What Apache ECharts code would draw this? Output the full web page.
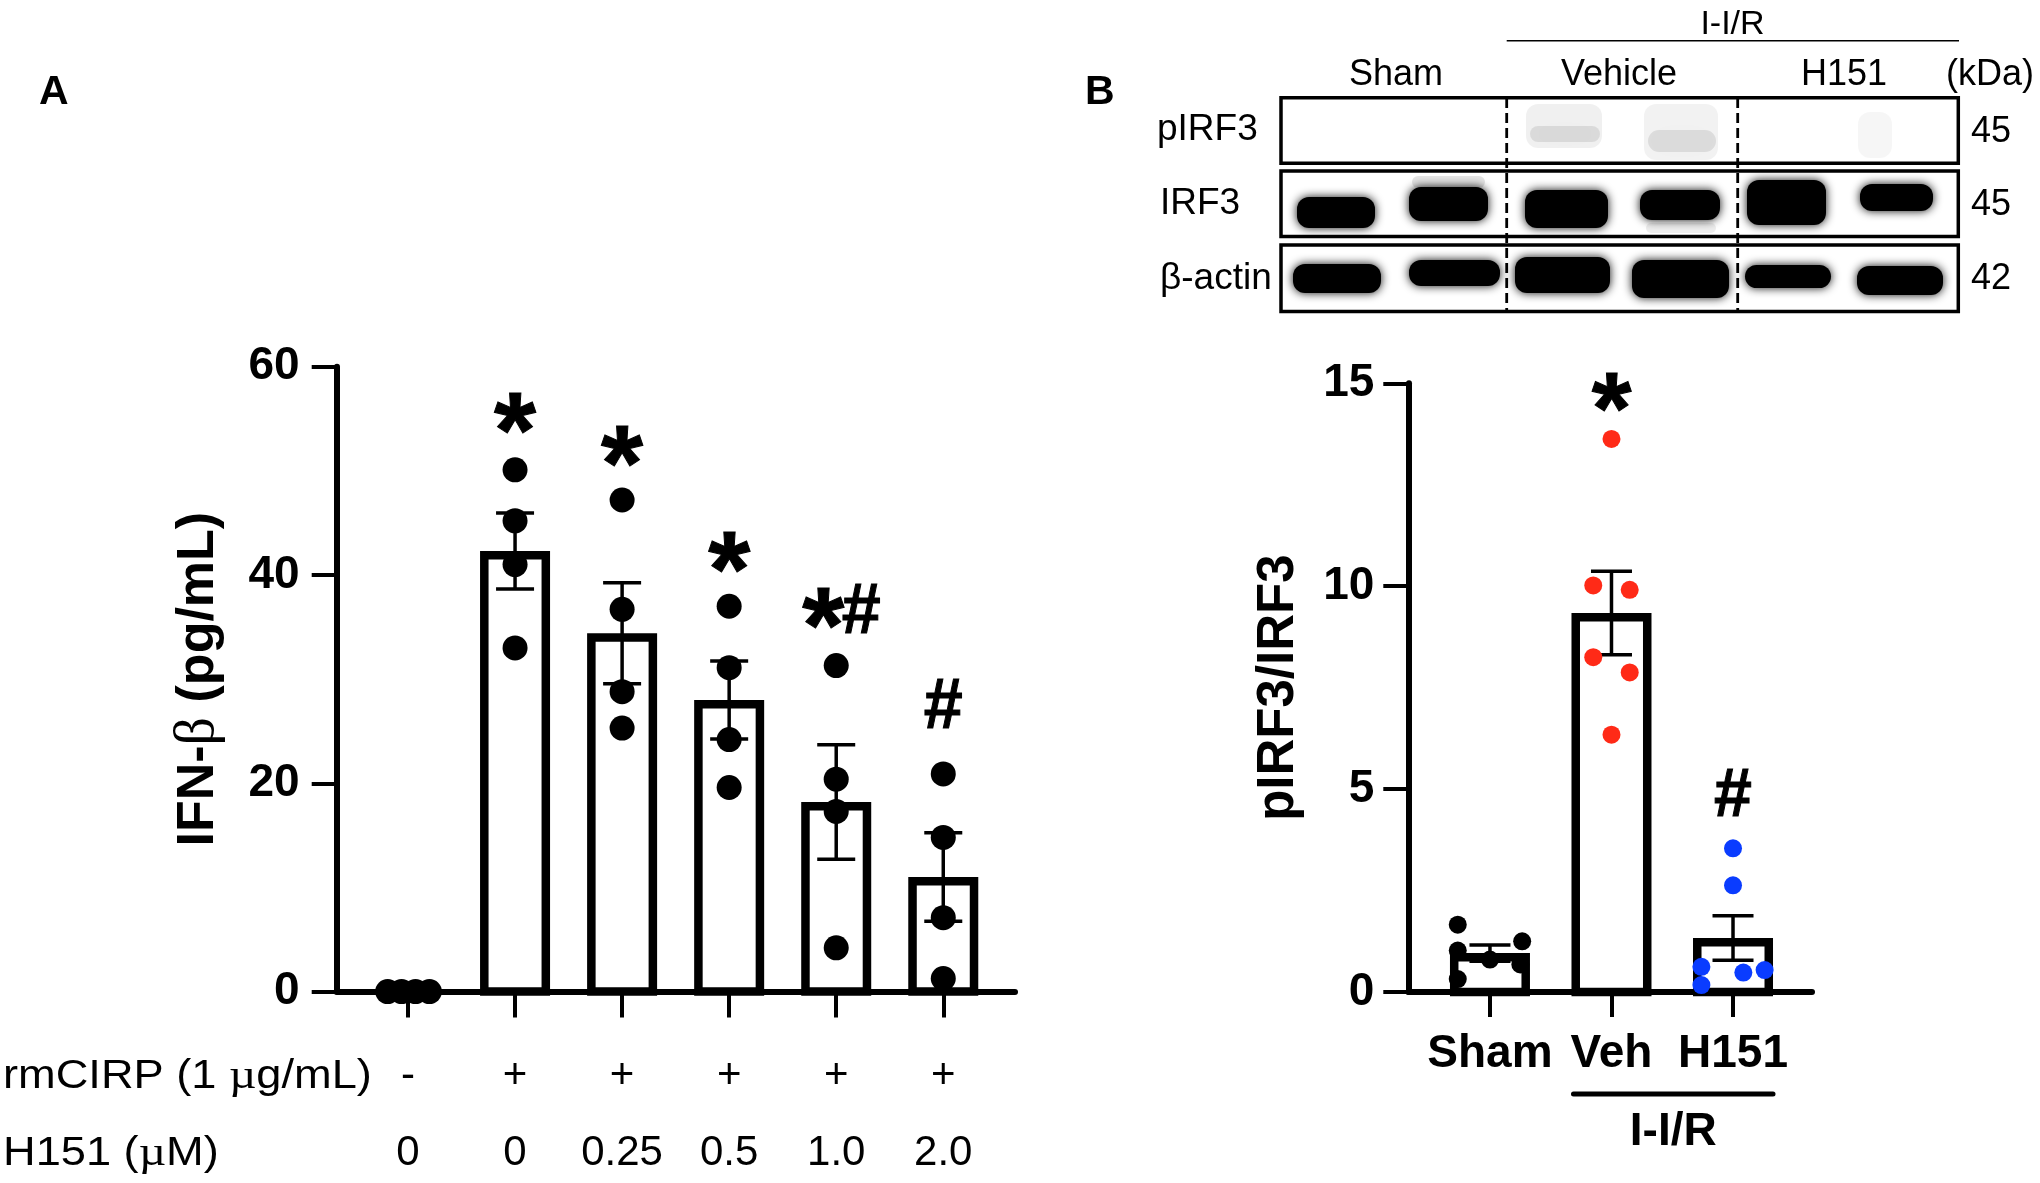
<!DOCTYPE html>
<html><head><meta charset="utf-8">
<script src="https://cdn.jsdelivr.net/npm/echarts@6/dist/echarts.min.js"></script>
<style>html,body{margin:0;padding:0;background:#fff}#c{width:2040px;height:1183px}</style>
</head><body><div id="c"></div>
<script>
// ---------- Panel A data ----------
const rmcirpLabels = ['-', '+', '+', '+', '+', '+'];
const h151Doses = ['0', '0', '0.25', '0.5', '1.0', '2.0'];
const ifnMean = [0, 42.3, 34.4, 28.0, 18.2, 11.0];
const ifnSem = [0, 3.65, 4.85, 3.75, 5.5, 4.25];
const ifnDots = [
  [0, 0, 0, 0],
  [50.1, 45.2, 41.0, 33.0],
  [47.2, 36.7, 28.8, 25.3],
  [37.0, 31.1, 24.2, 19.6],
  [31.3, 20.4, 17.3, 4.2],
  [20.9, 14.8, 7.1, 1.25]
];
const ifnStar = [null, 55.4, 52.2, 42.1, 36.7, null];
const ifnHash = [null, null, null, null, 36.3, 27.2];

// ---------- Panel B data ----------
const groupsB = ['Sham', 'Veh', 'H151'];
const ratioMean = [0.96, 9.34, 1.33];
const ratioSem = [0.2, 1.03, 0.55];
const ratioDots = [
  [1.66, 1.02, 0.32, 0.80, 1.25, 0.68],
  [13.63, 10.02, 9.91, 8.25, 7.875, 6.34],
  [3.54, 2.63, 0.62, 0.17, 0.48, 0.54]
];
const ratioStar = [null, 14.74, null];
const ratioHash = [null, null, 4.79];

// ---------- layout / style ----------
const FONT = "'Liberation Sans', Arial, Helvetica, sans-serif";
const SERIF = "'Liberation Serif', 'Times New Roman', serif";
const idxA = [0, 1, 2, 3, 4, 5];
const idxB = [0, 1, 2];
const jitterA = [[-0.19, -0.06, 0.07, 0.2], [0, 0, 0, 0], [0, 0, 0, 0], [0, 0, 0, 0], [0, 0, 0, 0], [0, 0, 0, 0]];
const jitterB = [[-0.265, -0.265, -0.265, 0, 0.265, 0.25], [0, -0.15, 0.15, -0.15, 0.15, 0], [0, 0, -0.26, -0.26, 0.085, 0.26]];
const dotColorsB = ['#000000', '#ff2a17', '#0a3cff'];
const starShiftA = [0, 0, 0, 0, -13, 0];
const hashShiftA = [0, 0, 0, 0, 25, 0];
const STAR_A = 108, HASH_A = 70, STAR_B = 102, HASH_B = 68;

const chart = echarts.init(document.getElementById('c'), null, { renderer: 'canvas' });

function barRender(outerW, bw) {
  return function (params, api) {
    const x = api.value(0), v = api.value(1);
    if (!v) return null;
    const top = api.coord([x, v]), base = api.coord([x, 0]);
    return {
      type: 'rect',
      shape: { x: top[0] - outerW / 2 + bw / 2, y: top[1] + bw / 2, width: outerW - bw, height: base[1] - top[1] - bw / 2 },
      style: { fill: '#fff', stroke: '#000', lineWidth: bw }
    };
  };
}
function errRender(capW, lw) {
  return function (params, api) {
    const x = api.value(0), m = api.value(1), s = api.value(2);
    if (!s) return null;
    const hi = api.coord([x, m + s]), lo = api.coord([x, m - s]);
    const st = { stroke: '#000', lineWidth: lw };
    return {
      type: 'group', children: [
        { type: 'line', shape: { x1: hi[0], y1: hi[1], x2: lo[0], y2: lo[1] }, style: st },
        { type: 'line', shape: { x1: hi[0] - capW / 2, y1: hi[1], x2: hi[0] + capW / 2, y2: hi[1] }, style: st },
        { type: 'line', shape: { x1: lo[0] - capW / 2, y1: lo[1], x2: lo[0] + capW / 2, y2: lo[1] }, style: st }
      ]
    };
  };
}
function sigRender(text, size, dyEm) {
  return function (params, api) {
    const p = api.coord([api.value(0), api.value(1)]);
    const dx = api.value(2) || 0;
    return {
      type: 'text',
      style: {
        text: text, x: p[0] + dx, y: p[1] + dyEm * size,
        font: 'bold ' + size + 'px ' + FONT, fill: '#000',
        align: 'center', verticalAlign: 'middle', stroke: '#000', lineWidth: 1
      }
    };
  };
}

const dotsA = [];
ifnDots.forEach((g, i) => g.forEach((v, k) => dotsA.push([i + jitterA[i][k], v])));
const dotsB = [];
ratioDots.forEach((g, i) => g.forEach((v, k) => dotsB.push({ value: [i + jitterB[i][k], v], itemStyle: { color: dotColorsB[i] } })));

const starDataA = [], hashDataA = [];
ifnStar.forEach((v, i) => { if (v != null) starDataA.push([i, v, starShiftA[i]]); });
ifnHash.forEach((v, i) => { if (v != null) hashDataA.push([i, v, hashShiftA[i]]); });
const starDataB = [], hashDataB = [];
ratioStar.forEach((v, i) => { if (v != null) starDataB.push([i, v, 0]); });
ratioHash.forEach((v, i) => { if (v != null) hashDataB.push([i, v, 0]); });

const axisLineStyle = { color: '#000', width: 6 };
const tickStyle = { color: '#000', width: 4 };

const option = {
  animation: false,
  backgroundColor: '#fff',
  grid: [
    { left: 336.7, top: 366.7, width: 678.3, height: 624.9 },
    { left: 1408.3, top: 383.3, width: 403.7, height: 608.7 }
  ],
  xAxis: [
    {
      type: 'value', gridIndex: 0, min: -0.666, max: 5.67, position: 'bottom',
      axisLine: { show: true, onZero: false, lineStyle: axisLineStyle },
      axisTick: { show: true, customValues: idxA, length: 26, lineStyle: tickStyle },
      axisLabel: { customValues: idxA, formatter: v => rmcirpLabels[Math.round(v)], fontFamily: FONT, fontSize: 42, color: '#000', margin: 64 },
      splitLine: { show: false }
    },
    {
      type: 'value', gridIndex: 0, min: -0.666, max: 5.67, position: 'bottom', offset: 100,
      axisLine: { show: false }, axisTick: { show: false },
      axisLabel: { customValues: idxA, formatter: v => h151Doses[Math.round(v)], fontFamily: FONT, fontSize: 42, color: '#000', margin: 41 },
      splitLine: { show: false }
    },
    {
      type: 'value', gridIndex: 1, min: -0.672, max: 2.65, position: 'bottom',
      axisLine: { show: true, onZero: false, lineStyle: axisLineStyle },
      axisTick: { show: true, customValues: idxB, length: 25, lineStyle: tickStyle },
      axisLabel: { customValues: idxB, formatter: v => groupsB[Math.round(v)], fontFamily: FONT, fontSize: 46, fontWeight: 'bold', color: '#000', margin: 39 },
      splitLine: { show: false }
    }
  ],
  yAxis: [
    {
      type: 'value', gridIndex: 0, min: 0, max: 60, interval: 20,
      axisLine: { show: true, onZero: false, lineStyle: axisLineStyle },
      axisTick: { show: true, length: 25, lineStyle: tickStyle },
      axisLabel: { fontFamily: FONT, fontSize: 46, fontWeight: 'bold', color: '#000', margin: 37 },
      splitLine: { show: false },
      name: 'IFN-{b|β} (pg/mL)', nameLocation: 'middle', nameRotate: 90, nameGap: 110,
      nameTextStyle: { fontFamily: FONT, fontSize: 52, fontWeight: 'bold', color: '#000',
        rich: { b: { fontFamily: SERIF, fontWeight: 'normal', fontSize: 56, color: '#000' } } }
    },
    {
      type: 'value', gridIndex: 1, min: 0, max: 15, interval: 5,
      axisLine: { show: true, onZero: false, lineStyle: axisLineStyle },
      axisTick: { show: true, length: 25, lineStyle: tickStyle },
      axisLabel: { fontFamily: FONT, fontSize: 46, fontWeight: 'bold', color: '#000', margin: 34 },
      splitLine: { show: false },
      name: 'pIRF3/IRF3', nameLocation: 'middle', nameRotate: 90, nameGap: 104,
      nameTextStyle: { fontFamily: FONT, fontSize: 51, fontWeight: 'bold', color: '#000' }
    }
  ],
  series: [
    { type: 'custom', xAxisIndex: 0, yAxisIndex: 0, z: 2, data: ifnMean.map((m, i) => [i, m]), renderItem: barRender(70, 8.5) },
    { type: 'custom', xAxisIndex: 0, yAxisIndex: 0, z: 3, data: ifnMean.map((m, i) => [i, m, ifnSem[i]]), renderItem: errRender(38, 3.5) },
    { type: 'scatter', xAxisIndex: 0, yAxisIndex: 0, z: 4, symbolSize: 25, itemStyle: { color: '#000', opacity: 1 }, data: dotsA },
    { type: 'custom', xAxisIndex: 0, yAxisIndex: 0, z: 5, data: starDataA, renderItem: sigRender('*', STAR_A, 0.21) },
    { type: 'custom', xAxisIndex: 0, yAxisIndex: 0, z: 5, data: hashDataA, renderItem: sigRender('#', HASH_A, 0) },

    { type: 'custom', xAxisIndex: 2, yAxisIndex: 1, z: 2, data: ratioMean.map((m, i) => [i, m]), renderItem: barRender(80, 8.5) },
    { type: 'custom', xAxisIndex: 2, yAxisIndex: 1, z: 3, data: ratioMean.map((m, i) => [i, m, ratioSem[i]]), renderItem: errRender(41, 3.5) },
    { type: 'scatter', xAxisIndex: 2, yAxisIndex: 1, z: 4, symbolSize: 18, itemStyle: { opacity: 1 }, data: dotsB },
    { type: 'custom', xAxisIndex: 2, yAxisIndex: 1, z: 5, data: starDataB, renderItem: sigRender('*', STAR_B, 0.21) },
    { type: 'custom', xAxisIndex: 2, yAxisIndex: 1, z: 5, data: hashDataB, renderItem: sigRender('#', HASH_B, 0) }
  ]
};
chart.setOption(option);

// ---------- annotations, labels and blot image (decoration) ----------
function txt(x, y, text, size, weight, align, extra) {
  return Object.assign({
    type: 'text', x: x, y: y, z: 10,
    style: { x: 0, y: 0, text: text, font: (weight || 'normal') + ' ' + size + 'px ' + FONT, fill: '#000', align: align || 'left', verticalAlign: 'middle' }
  }, extra || {});
}
const g = [];
g.push(txt(39, 92.5, 'A', 41, 'bold'));
g.push(txt(1085, 92.5, 'B', 41, 'bold'));
// panel A row labels
g.push({ type: 'text', x: 3, y: 1076.5, scaleX: 1.13, z: 10,
  style: { x: 0, y: 0, text: 'rmCIRP (1 {m|µ}g/mL)', font: '40px ' + FONT, fill: '#000', align: 'left', verticalAlign: 'middle',
    rich: { m: { font: '42px ' + SERIF, fill: '#000' } } } });
g.push({ type: 'text', x: 3, y: 1153.5, scaleX: 1.13, z: 10,
  style: { x: 0, y: 0, text: 'H151 ({m|µ}M)', font: '40px ' + FONT, fill: '#000', align: 'left', verticalAlign: 'middle',
    rich: { m: { font: '42px ' + SERIF, fill: '#000' } } } });

// blot header
g.push(txt(1732.5, 25, 'I-I/R', 34, 'normal', 'center'));
g.push({ type: 'line', z: 10, shape: { x1: 1506.7, y1: 40.7, x2: 1959, y2: 40.7 }, style: { stroke: '#000', lineWidth: 1.6 } });
g.push(txt(1396, 75, 'Sham', 36, 'normal', 'center'));
g.push(txt(1619, 75, 'Vehicle', 36, 'normal', 'center'));
g.push(txt(1844, 75, 'H151', 36, 'normal', 'center'));
g.push(txt(1990, 75, '(kDa)', 36, 'normal', 'center'));
g.push(txt(1157, 130, 'pIRF3', 37));
g.push(txt(1160, 204, 'IRF3', 37));
g.push(txt(1160, 279, 'β-actin', 37));
g.push(txt(1991, 132, '45', 36, 'normal', 'center'));
g.push(txt(1991, 205, '45', 36, 'normal', 'center'));
g.push(txt(1991, 279, '42', 36, 'normal', 'center'));

// faint pIRF3 signal
const faint = [
  [1526, 104, 76, 44, 0.06], [1530, 126, 70, 16, 0.09],
  [1644, 104, 74, 56, 0.05], [1648, 130, 68, 22, 0.09],
  [1858, 112, 34, 46, 0.035]
];
faint.forEach(f => g.push({ type: 'rect', z: 8, shape: { x: f[0], y: f[1], width: f[2], height: f[3], r: 12 },
  style: { fill: 'rgba(0,0,0,' + f[4] + ')', shadowBlur: 26, shadowColor: 'rgba(0,0,0,' + (f[4] * 1.4) + ')' } }));
// dark bands
const bands = [
  [1295, 195, 82, 35], [1407, 185, 83, 38], [1523, 188, 87, 42], [1638, 188, 84, 34], [1745, 178, 83, 49], [1858, 182, 77, 31],
  [1291, 262, 92, 33], [1407, 258, 95, 30], [1513, 255, 99, 40], [1630, 258, 101, 42], [1743, 263, 90, 27], [1855, 264, 90, 33]
];
bands.forEach(b => g.push({ type: 'rect', z: 8, shape: { x: b[0] + 2, y: b[1] + 2, width: b[2] - 4, height: b[3] - 4, r: 12 },
  style: { fill: '#000', shadowBlur: 10, shadowColor: 'rgba(0,0,0,0.95)' } }));
g.push({ type: 'rect', z: 8, shape: { x: 1412, y: 176, width: 73, height: 12, r: 6 }, style: { fill: 'rgba(0,0,0,0.10)', shadowBlur: 10, shadowColor: 'rgba(0,0,0,0.10)' } });
g.push({ type: 'rect', z: 8, shape: { x: 1646, y: 223, width: 70, height: 10, r: 6 }, style: { fill: 'rgba(0,0,0,0.07)', shadowBlur: 10, shadowColor: 'rgba(0,0,0,0.07)' } });
// boxes
[[97.7, 65.6], [171.0, 65.6], [245.0, 66.6]].forEach(r => g.push({ type: 'rect', z: 9,
  shape: { x: 1281, y: r[0], width: 677.3, height: r[1] }, style: { fill: 'none', stroke: '#000', lineWidth: 3.5 } }));
// dashed lane separators
[1506.7, 1737.7].forEach(x => g.push({ type: 'line', z: 9, shape: { x1: x, y1: 98, x2: x, y2: 312 },
  style: { stroke: '#000', lineWidth: 2.8, lineDash: [10, 5] } }));

// I-I/R bracket under panel B, positioned from the axis scale
const pVeh = chart.convertToPixel({ xAxisIndex: 2, yAxisIndex: 1 }, [1, 0]);
const pH = chart.convertToPixel({ xAxisIndex: 2, yAxisIndex: 1 }, [2, 0]);
g.push({ type: 'line', z: 10, shape: { x1: pVeh[0] - 38, y1: 1094, x2: pH[0] + 40, y2: 1094 }, style: { stroke: '#000', lineWidth: 5, lineCap: 'round' } });
g.push(txt((pVeh[0] + pH[0]) / 2 + 1, 1132, 'I-I/R', 46, 'bold', 'center'));

chart.setOption({ graphic: { elements: g } });
</script></body></html>
